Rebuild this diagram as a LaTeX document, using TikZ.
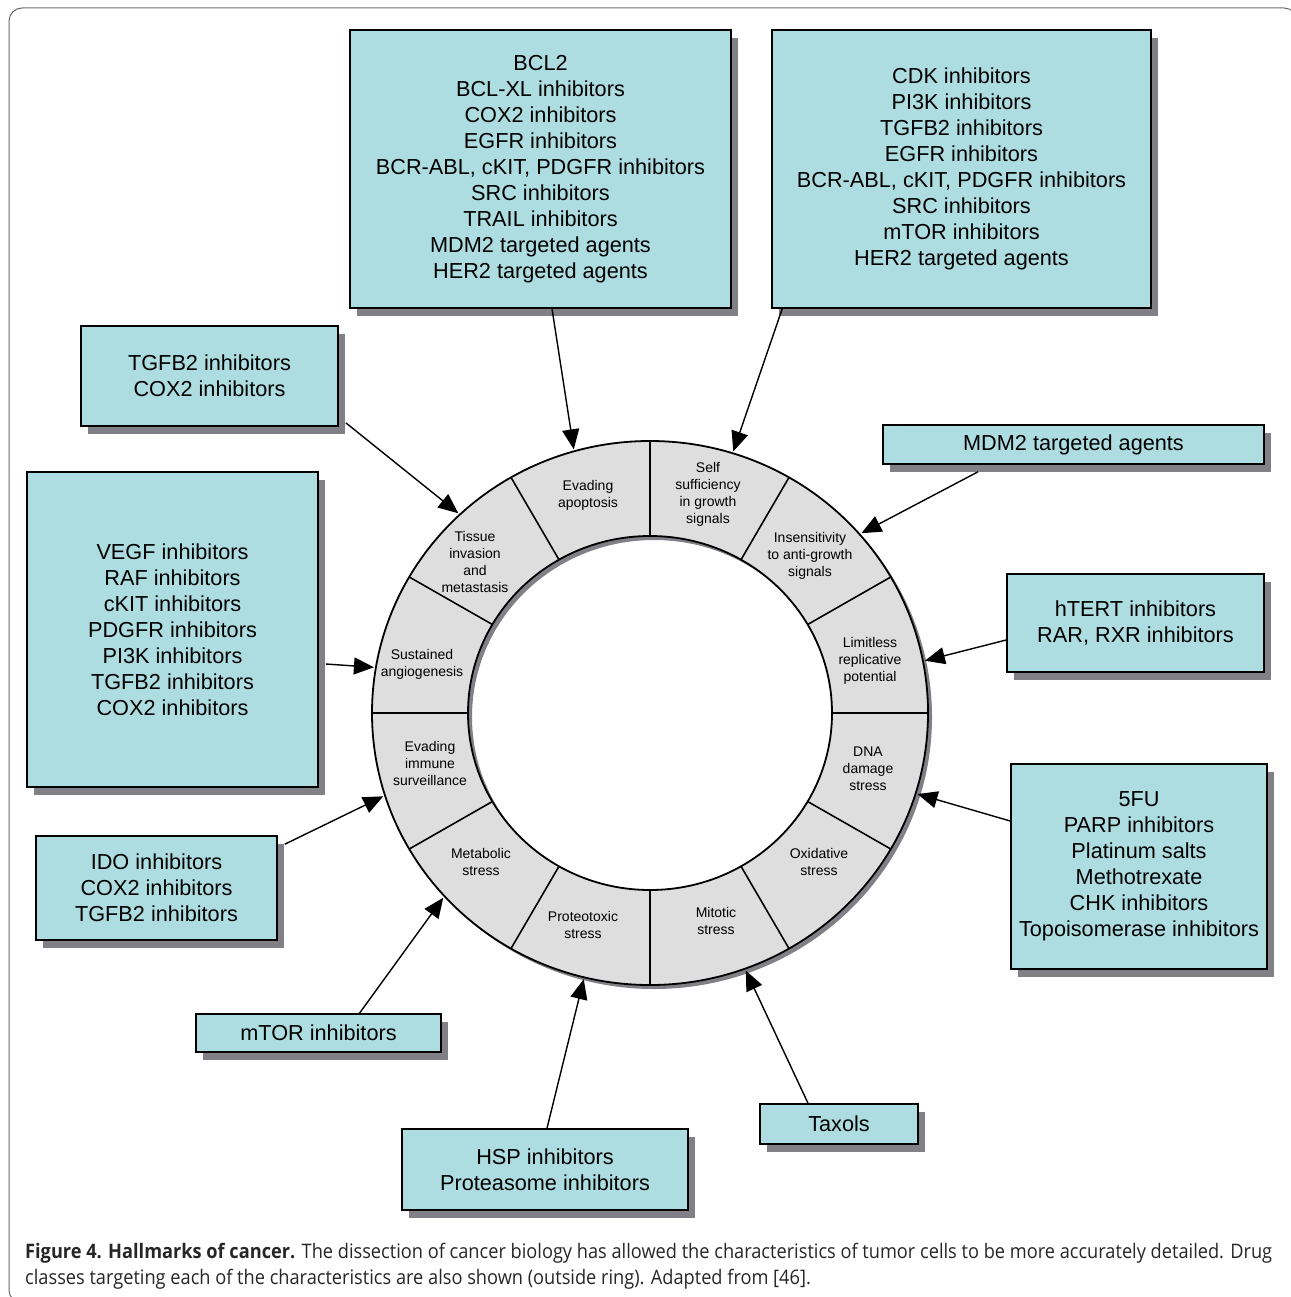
\documentclass[tikz,border=0pt]{standalone}
\usepackage{fontspec}
\setmainfont{Liberation Sans}
\newfontfamily\capfont[FakeStretch=0.91]{Open Sans}
\usetikzlibrary{shapes, arrows.meta, positioning, calc, shadows}

\definecolor{boxcyan}{HTML}{ADDDE0}
\definecolor{shadowgray}{HTML}{808086}
\definecolor{ringgray}{HTML}{DEDEDE}
\definecolor{framegray}{HTML}{6A6A6A}

\begin{document}
\begin{tikzpicture}[
    x=1pt, y=-1pt,
    % Styles
    drug/.style={draw, rectangle, line width=1.6pt, fill=boxcyan, align=center, inner sep=0pt,
        font=\fontsize{21.7}{26}\selectfont,
        drop shadow={shadow xshift=7pt, shadow yshift=-8pt, fill=shadowgray, opacity=1}},
    hall/.style={align=center, inner sep=0pt, font=\fontsize{14}{17}\selectfont},
    wire/.style={-{Triangle[length=20pt, width=17pt]}, line width=1.4pt},
    divider/.style={line width=1.6pt},
    caption/.style={anchor=base west, inner sep=0pt, font=\capfont\fontsize{20}{26}\selectfont, text=black!85}
]
    \useasboundingbox (0,0) rectangle (1290,1297);

    % --- FRAME ---
    \draw[framegray, line width=1pt, rounded corners=13pt] (9,8) rectangle (1297,1303);

    % --- RING ---
    \coordinate (c) at (650,713);
    \coordinate (cs) at (654,717);
    % shadow of the ring
    \fill[shadowgray, even odd rule] (cs) ellipse [x radius=278pt, y radius=272pt]
        (cs) ellipse [x radius=182pt, y radius=177pt];
    \filldraw[fill=ringgray, line width=1.8pt, even odd rule] (c) ellipse [x radius=278pt, y radius=272pt]
        (c) ellipse [x radius=182pt, y radius=177pt];

    % Dividers between the hallmarks
    \draw[divider] ($(c)+(0:182pt and 177pt)$) -- ($(c)+(0:278pt and 272pt)$);
    \draw[divider] ($(c)+(30:182pt and 177pt)$) -- ($(c)+(30:278pt and 272pt)$);
    \draw[divider] ($(c)+(60:182pt and 177pt)$) -- ($(c)+(60:278pt and 272pt)$);
    \draw[divider] ($(c)+(90:182pt and 177pt)$) -- ($(c)+(90:278pt and 272pt)$);
    \draw[divider] ($(c)+(120:182pt and 177pt)$) -- ($(c)+(120:278pt and 272pt)$);
    \draw[divider] ($(c)+(150:182pt and 177pt)$) -- ($(c)+(150:278pt and 272pt)$);
    \draw[divider] ($(c)+(180:182pt and 177pt)$) -- ($(c)+(180:278pt and 272pt)$);
    \draw[divider] ($(c)+(210:182pt and 177pt)$) -- ($(c)+(210:278pt and 272pt)$);
    \draw[divider] ($(c)+(240:182pt and 177pt)$) -- ($(c)+(240:278pt and 272pt)$);
    \draw[divider] ($(c)+(270:182pt and 177pt)$) -- ($(c)+(270:278pt and 272pt)$);
    \draw[divider] ($(c)+(300:182pt and 177pt)$) -- ($(c)+(300:278pt and 272pt)$);
    \draw[divider] ($(c)+(330:182pt and 177pt)$) -- ($(c)+(330:278pt and 272pt)$);

    % Hallmarks (counter-clockwise from the right)
    \node[hall] (limit) at (870,661) {Limitless\\replicative\\potential};
    \node[hall] (insens) at (810,556) {Insensitivity\\to anti-growth\\signals};
    \node[hall] (selfs) at (708,494) {Self\\sufficiency\\in growth\\signals};
    \node[hall] (apop) at (588,495) {Evading\\apoptosis};
    \node[hall] (tissue) at (475,562) {Tissue\\invasion\\and\\metastasis};
    \node[hall] (angio) at (422,664) {Sustained\\angiogenesis};
    \node[hall] (immune) at (430,763) {Evading\\immune\\surveillance};
    \node[hall] (metab) at (481,862) {Metabolic\\stress};
    \node[hall] (proteo) at (583,925) {Proteotoxic\\stress};
    \node[hall] (mitot) at (716,921) {Mitotic\\stress};
    \node[hall] (oxid) at (819,862) {Oxidative\\stress};
    \node[hall] (dna) at (868,769) {DNA\\damage\\stress};

    % Arrow targets on the outer edge of the ring
    \coordinate (t-apop) at ($(c)+(105.8:280pt and 274pt)$);
    \coordinate (t-selfs) at ($(c)+(72.7:280pt and 274pt)$);
    \coordinate (t-tissue) at ($(c)+(133.2:280pt and 274pt)$);
    \coordinate (t-insens) at ($(c)+(41:280pt and 274pt)$);
    \coordinate (t-angio) at ($(c)+(170.4:280pt and 274pt)$);
    \coordinate (t-limit) at ($(c)+(11:280pt and 274pt)$);
    \coordinate (t-immune) at ($(c)+(197.7:280pt and 274pt)$);
    \coordinate (t-dna) at ($(c)+(342.8:280pt and 274pt)$);
    \coordinate (t-metab) at ($(c)+(222.4:280pt and 274pt)$);
    \coordinate (t-proteo) at ($(c)+(256.3:280pt and 274pt)$);
    \coordinate (t-mitot) at ($(c)+(290:280pt and 274pt)$);

    % --- DRUG BOXES ---
    \node[drug, minimum width=381pt, minimum height=278pt] (bcl) at (540.5,169)
        {BCL2\\BCL-XL inhibitors\\COX2 inhibitors\\EGFR inhibitors\\BCR-ABL, cKIT, PDGFR inhibitors\\SRC inhibitors\\TRAIL inhibitors\\MDM2 targeted agents\\HER2 targeted agents};
    \node[drug, minimum width=379pt, minimum height=278pt] (cdk) at (961.5,169)
        {CDK inhibitors\\PI3K inhibitors\\TGFB2 inhibitors\\EGFR inhibitors\\BCR-ABL, cKIT, PDGFR inhibitors\\SRC inhibitors\\mTOR inhibitors\\HER2 targeted agents};
    \node[drug, minimum width=257pt, minimum height=100pt] (tgf) at (209.5,376)
        {TGFB2 inhibitors\\COX2 inhibitors};
    \node[drug, minimum width=381pt, minimum height=39pt] (mdm) at (1073.5,444.5)
        {MDM2 targeted agents};
    \node[drug, minimum width=291pt, minimum height=315pt] (vegf) at (172.5,629.5)
        {VEGF inhibitors\\RAF inhibitors\\cKIT inhibitors\\PDGFR inhibitors\\PI3K inhibitors\\TGFB2 inhibitors\\COX2 inhibitors};
    \node[drug, minimum width=257pt, minimum height=98pt] (htert) at (1135.5,623)
        {hTERT inhibitors\\RAR, RXR inhibitors};
    \node[drug, minimum width=241pt, minimum height=104pt] (ido) at (156.5,888)
        {IDO inhibitors\\COX2 inhibitors\\TGFB2 inhibitors};
    \node[drug, minimum width=256pt, minimum height=205pt] (fu) at (1139,866.5)
        {5FU\\PARP inhibitors\\Platinum salts\\Methotrexate\\CHK inhibitors\\Topoisomerase inhibitors};
    \node[drug, minimum width=245pt, minimum height=38pt] (mtor) at (318.5,1033)
        {mTOR inhibitors};
    \node[drug, minimum width=286pt, minimum height=81pt] (hsp) at (545,1169.5)
        {HSP inhibitors\\Proteasome inhibitors};
    \node[drug, minimum width=158pt, minimum height=40pt] (taxol) at (839,1124)
        {Taxols};

    % --- CONNECTIONS ---
    \draw[wire] ($(bcl.south)+(11.5,0)$) -- (t-apop);
    \draw[wire] ($(cdk.south west)+(11,0)$) -- (t-selfs);
    \draw[wire] ($(tgf.south east)+(7,-4)$) -- (t-tissue);
    \draw[wire] ($(mdm.south)+(-95.5,7)$) -- (t-insens);
    \draw[wire] ($(vegf.east)+(7,34.5)$) -- (t-angio);
    \draw[wire] ($(htert.west)+(0,17)$) -- (t-limit);
    \draw[wire] ($(ido.north east)+(7,9)$) -- (t-immune);
    \draw[wire] ($(fu.west)+(0,-45.5)$) -- (t-dna);
    \draw[wire] ($(mtor.north)+(41,0)$) -- (t-metab);
    \draw[wire] ($(hsp.north)+(2,0)$) -- (t-proteo);
    \draw[wire] ($(taxol.north)+(-31,0)$) -- (t-mitot);

    % --- CAPTION ---
    \node[caption] (cap1) at (25,1258) {\textbf{Figure 4. Hallmarks of cancer.} The dissection of cancer biology has allowed the characteristics of tumor cells to be more accurately detailed. Drug};
    \node[caption] (cap2) at (25,1284) {classes targeting each of the characteristics are also shown (outside ring). Adapted from [46].};

\end{tikzpicture}
\end{document}
